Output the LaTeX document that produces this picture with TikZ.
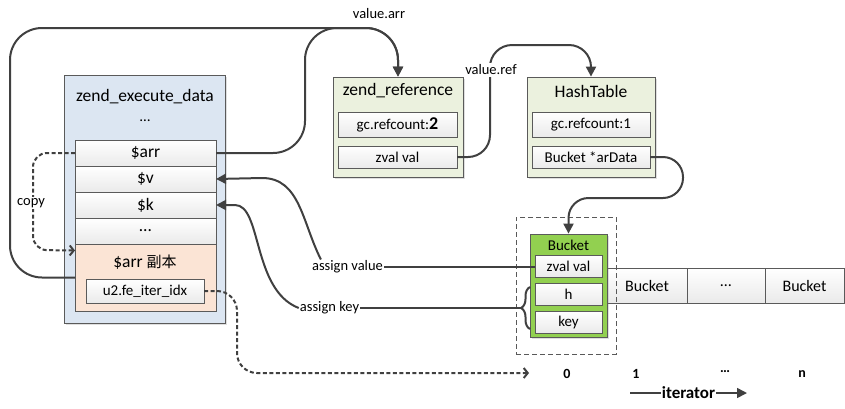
\documentclass[tikz,border=0pt]{standalone}
\usepackage{fontspec}
\setmainfont{Carlito}
\newfontfamily\cjkfont{Noto Sans CJK SC}
\usepackage{tikz}
\usetikzlibrary{arrows.meta,positioning,shadows,decorations.pathreplacing}
\definecolor{execblue}{RGB}{220,230,242}
\definecolor{copypeach}{RGB}{251,228,213}
\definecolor{refolive}{RGB}{235,241,222}
\definecolor{bucketgreen}{RGB}{146,208,80}
\definecolor{edgegray}{RGB}{90,90,90}
\definecolor{linkgray}{RGB}{64,64,64}
\definecolor{slotgray}{RGB}{234,234,234}

\begin{document}
\begin{tikzpicture}[x=1pt,y=1pt,
    every node/.style={font=\fontsize{15}{18}\selectfont,inner sep=1pt},
    panel/.style={draw=edgegray,line width=0.8pt,
                  drop shadow={shadow xshift=1.5pt,shadow yshift=-1.5pt,opacity=0.25}},
    slot/.style={draw=edgegray,line width=0.8pt,top color=white,bottom color=slotgray,
                 outer sep=0pt,inner sep=0pt},
    headtext/.style={font=\fontsize{17.5}{21}\selectfont},
    pointer/.style={draw=linkgray,line width=2pt,-{Triangle[length=10pt,width=10pt]}},
    plainline/.style={draw=linkgray,line width=2pt},
    dashlink/.style={draw=linkgray,line width=2pt,dash pattern=on 4pt off 2.5pt,
                     -{Straight Barb[length=4pt,width=10pt]}},
    idx/.style={font=\fontsize{14}{16}\selectfont\bfseries}]
  \useasboundingbox (0,0) rectangle (845,-408);

  % zend_execute_data frame
  \node[panel,fill=execblue,minimum width=161pt,minimum height=248pt] (exec) at (144.5,-199) {};
  \node[headtext] (exectitle) at (145,-97) {zend\_execute\_data};
  \node (execdots) at (145,-121) {…};
  \node[slot,headtext,minimum width=141pt,minimum height=26pt] (arr) at (145.5,-153) {\$arr};
  \node[slot,headtext,minimum width=141pt,minimum height=26pt,below=0pt of arr] (v) {\$v};
  \node[slot,headtext,minimum width=141pt,minimum height=26pt,below=0pt of v] (k) {\$k};
  \node[slot,headtext,minimum width=141pt,minimum height=26pt,below=0pt of k] (rowdots) {…};
  \node[draw=edgegray,line width=0.8pt,fill=copypeach,outer sep=0pt,
        minimum width=141pt,minimum height=67pt,below=0pt of rowdots] (dup) {};
  \node[headtext] (duptitle) at (145,-262) {\$arr {\cjkfont\fontsize{15}{18}\selectfont 副本}};
  \node[slot,minimum width=118pt,minimum height=24pt] (iteridx) at (145,-291) {u2.fe\_iter\_idx};

  % zend_reference and HashTable
  \node[panel,fill=refolive,minimum width=130pt,minimum height=100pt] (zref) at (398,-127) {};
  \node[headtext] (zreftitle) at (398,-91) {zend\_reference};
  \node[slot,minimum width=119pt,minimum height=25pt] (zrefgc) at (397.5,-124.5)
       {gc.refcount:{\fontsize{18}{18}\selectfont\bfseries 2}};
  \node[slot,minimum width=119pt,minimum height=22pt] (zrefval) at (397.5,-157) {zval val};

  \node[panel,fill=refolive,minimum width=128pt,minimum height=100pt] (ht) at (591,-127) {};
  \node[headtext] (httitle) at (591,-91) {HashTable};
  \node[slot,minimum width=118pt,minimum height=25pt] (htgc) at (591,-124.5) {gc.refcount:1};
  \node[slot,minimum width=118pt,minimum height=22pt] (ardata) at (591,-157) {Bucket *arData};

  % bucket array
  \node[slot,font=\fontsize{16}{19}\selectfont,minimum width=80pt,minimum height=35pt] (cell0) at (647,-285.5) {Bucket};
  \node[slot,font=\fontsize{16}{19}\selectfont,minimum width=78pt,minimum height=35pt,right=0pt of cell0] (cell1) {…};
  \node[slot,font=\fontsize{16}{19}\selectfont,minimum width=79pt,minimum height=35pt,right=0pt of cell1] (celln) {Bucket};
  \node[draw=gray!70!black,dash pattern=on 5pt off 3pt,line width=0.7pt,minimum width=100pt,minimum height=137pt] (zone) at (566,-285.5) {};
  \node[panel,fill=bucketgreen,minimum width=77pt,minimum height=103pt] (bucket) at (568.5,-285.5) {};
  \node (buckettitle) at (568.5,-245) {Bucket};
  \node[slot,minimum width=67pt,minimum height=22pt] (bzval) at (568.5,-266) {zval val};
  \node[slot,minimum width=67pt,minimum height=22pt] (bh) at (568.5,-294) {h};
  \node[slot,minimum width=67pt,minimum height=22pt] (bkey) at (568.5,-322) {key};

  % indexes
  \node[idx] (i0) at (567,-374) {0};
  \node[idx] (i1) at (636,-374) {1};
  \node[idx] (idots) at (725,-372) {…};
  \node[idx] (inn) at (802,-374) {n};

  % labels
  \node[font=\fontsize{14.5}{17}\selectfont] (aval) at (347.5,-267) {assign value};
  \node[font=\fontsize{14.5}{17}\selectfont] (akey) at (329.5,-308) {assign key};
  \node[font=\fontsize{14.5}{17}\selectfont] (arrlabel) at (379,-14) {value.arr};

  % pointers
  \draw[pointer,rounded corners=32pt] (dup.west) -- (10,-277.5) -- (10,-28) -- (398,-28) -- (zref.north);
  \draw[pointer,rounded corners=32pt] (arr.east) -- (305,-153) -- (305,-28) -- (398,-28) -- (zref.north);
  \draw[pointer,rounded corners=22pt] (zrefval.east) -- (490,-157) -- (490,-45) -- (591,-45) -- (ht.north);
  \node[fill=white,inner sep=1.5pt,font=\fontsize{14.5}{17}\selectfont] (reflabel) at (491,-70) {value.ref};
  \draw[pointer,rounded corners=20pt] (ardata.east) -- (683,-157) -- (683,-198) -- (568.5,-198) -- (bucket.north);

  \draw[plainline] (aval.east) -- (aval.east -| bzval.west);
  \draw[pointer] ([xshift=10pt]aval.north west) .. controls (302,-222) and (300,-178) .. (262,-178) -- (v.east);
  \draw[plainline,decorate,decoration={brace,amplitude=9pt}] (530,-329) -- (530,-287);
  \coordinate (bracetip) at (521,-308);
  \draw[plainline] (akey.east) -- (bracetip);
  \draw[pointer] (akey.west) .. controls (252,-290) and (262,-205) .. (235,-205) -- (k.east);

  % copy and iterator
  \draw[dashlink,rounded corners=14pt] (arr.west) -- (33,-153) -- (33,-250) -- ([yshift=-6.5pt]dup.north west);
  \node[fill=white,inner sep=1pt,font=\fontsize{14.5}{17}\selectfont] (copylabel) at (31,-203) {copy};
  \coordinate (itertip) at (529,-373);
  \draw[dashlink,rounded corners=20pt] (iteridx.east) -- (237,-291) -- (237,-373) -- (itertip);
  \coordinate (iterfrom) at (630,-393);
  \coordinate (iterto) at (747,-393);
  \draw[pointer,line width=1.6pt] (iterfrom) -- (iterto)
       node[midway,fill=white,inner sep=1pt,font=\fontsize{17}{20}\selectfont\bfseries] {iterator};
\end{tikzpicture}
\end{document}
